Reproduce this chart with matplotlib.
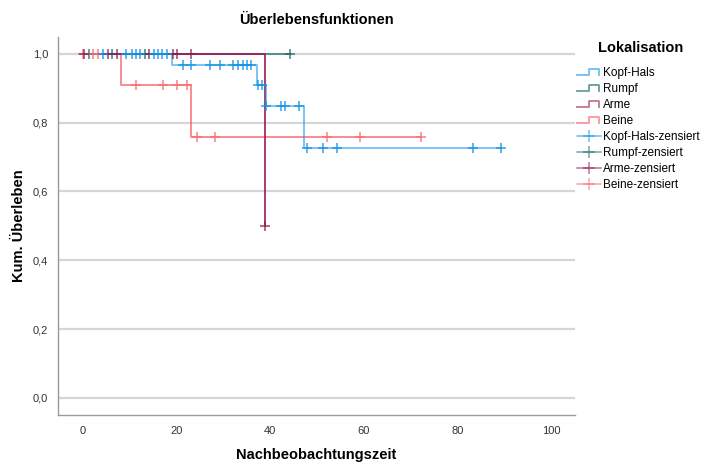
import numpy as np
import matplotlib
matplotlib.use("Agg")
import matplotlib.pyplot as plt
from matplotlib.lines import Line2D
from matplotlib.legend_handler import HandlerBase

plt.rcParams['font.family'] = ['Liberation Sans', 'DejaVu Sans']

# ---- data ----
groups = ["Kopf-Hals", "Rumpf", "Arme", "Beine"]

kh_event_t = [0, 19.1, 37.1, 39.1, 47.2]
kh_surv = [1.0, 0.967, 0.91, 0.847, 0.726]
kh_cens = [4.3, 9.3, 10.4, 11.3, 12.2, 15.2, 16.1, 17.0, 17.9, 21.3, 23.2, 27.1,
           29.3, 32.1, 33.1, 34.1, 35.0, 36.0, 37.4, 38.2, 39.2, 42.4, 43.2, 46.2,
           47.9, 51.2, 54.2, 83.3, 89.2]

ru_event_t = [0]
ru_surv = [1.0]
ru_cens = [1.3, 6.3, 13.2, 44.2]

ar_event_t = [0, 39.0]
ar_surv = [1.0, 0.5]
ar_cens = [0.2, 5.3, 7.3, 14.2, 19.2, 20.2, 23.2, 39.0]

be_event_t = [0, 8.1, 23.2]
be_surv = [1.0, 0.909, 0.757]
be_cens = [0.0, 2.2, 3.2, 11.3, 17.2, 20.2, 22.3, 24.3, 28.2, 52.2, 59.2, 72.2]

yticks = [0.0, 0.2, 0.4, 0.6, 0.8, 1.0]
xticks = [0, 20, 40, 60, 80, 100]

series = {
    "Kopf-Hals": (kh_event_t, kh_surv, kh_cens),
    "Rumpf": (ru_event_t, ru_surv, ru_cens),
    "Arme": (ar_event_t, ar_surv, ar_cens),
    "Beine": (be_event_t, be_surv, be_cens),
}
line_col = {"Kopf-Hals": "#1192e8", "Rumpf": "#005d5d", "Arme": "#9f1853", "Beine": "#fa4d56"}
line_alpha = {"Kopf-Hals": 0.55, "Rumpf": 0.6, "Arme": 0.85, "Beine": 0.65}
cens_col = {"Kopf-Hals": "#1192e8", "Rumpf": "#1d6b65", "Arme": "#8a1f52", "Beine": "#fa6b73"}
draw_order = ["Rumpf", "Beine", "Arme", "Kopf-Hals"]

fig = plt.figure(figsize=(7.01, 4.62), dpi=100)
ax = fig.add_axes([58/701, 1-415/462, (575-58)/701, (415-37)/462])
ax.set_xlim(-5.3, 105.1)
ax.set_ylim(-0.05, 1.049)

def surv_at(et, sv, t):
    idx = np.searchsorted(np.array(et), t, side='right') - 1
    return sv[max(idx, 0)]

for g in draw_order:
    et, sv, cs = series[g]
    t_end = max(max(et), max(cs))
    xs = list(et) + [t_end]
    ys = list(sv) + [sv[-1]]
    ax.step(xs, ys, where='post', color=line_col[g], alpha=line_alpha[g], lw=1.4, zorder=3)
    cy = [surv_at(et, sv, t) for t in cs]
    ax.plot(cs, cy, ls='none', marker='+', ms=7, mew=1.1, color=cens_col[g],
            alpha=0.85, zorder=4)

ax.set_yticks(yticks)
ax.set_yticklabels([f"{v:.1f}".replace('.', ',') for v in yticks])
ax.set_xticks(xticks)
ax.set_xticklabels([str(v) for v in xticks])
ax.tick_params(axis='both', length=0, labelsize=8, labelcolor='#333333')
ax.tick_params(axis='y', pad=7)
ax.tick_params(axis='x', pad=8)
ax.grid(axis='y', color='#d6d6d6', lw=1.6, zorder=0)
ax.set_axisbelow(True)
for s in ['top', 'right']:
    ax.spines[s].set_visible(False)
for s in ['left', 'bottom']:
    ax.spines[s].set_color('#9a9a9a')
    ax.spines[s].set_linewidth(1.0)

ax.set_ylabel("Kum. Überleben", fontsize=10.5, fontweight='bold')
ax.yaxis.set_label_coords(-0.062, 0.5)
ax.set_xlabel("Nachbeobachtungszeit", fontsize=10.5, fontweight='bold')
ax.xaxis.set_label_coords(0.5, -0.087)
fig.text(316/701, 1-20/462, "Überlebensfunktionen", ha='center', va='center',
         fontsize=10.5, fontweight='bold')


class StepHandler(HandlerBase):
    def create_artists(self, legend, orig_handle, xdescent, ydescent, width, height,
                       fontsize, trans):
        x0, y0 = -xdescent, -ydescent
        lo, hi = y0 + 0.15*height, y0 + 0.85*height
        xs = [x0, x0 + 0.5*width, x0 + 0.5*width, x0 + 0.92*width, x0 + 0.92*width]
        ys = [lo, lo, hi, hi, lo]
        ln = Line2D(xs, ys, color=orig_handle.get_color(), alpha=orig_handle.get_alpha(),
                    lw=1.3)
        ln.set_transform(trans)
        return [ln]


handles, labels, hmap = [], [], {}
for g in groups:
    h = Line2D([], [], color=line_col[g], alpha=0.6)
    handles.append(h)
    labels.append(g)
    hmap[h] = StepHandler()
for g in groups:
    h = Line2D([], [], color=cens_col[g], alpha=0.6, marker='+', ms=9, mew=1.1, lw=1.1)
    handles.append(h)
    labels.append(g + "-zensiert")

leg = ax.legend(handles, labels, handler_map=hmap, loc='upper left',
                bbox_to_anchor=(577/701, 1-67/462), bbox_transform=fig.transFigure,
                frameon=False, fontsize=8.5,
                handlelength=2.0, handletextpad=0.2, labelspacing=0.34,
                borderpad=0, borderaxespad=0)
fig.text(641/701, 1-48/462, "Lokalisation", ha='center', va='center',
         fontsize=10.5, fontweight='bold')

fig.savefig("out.png", dpi=100)
